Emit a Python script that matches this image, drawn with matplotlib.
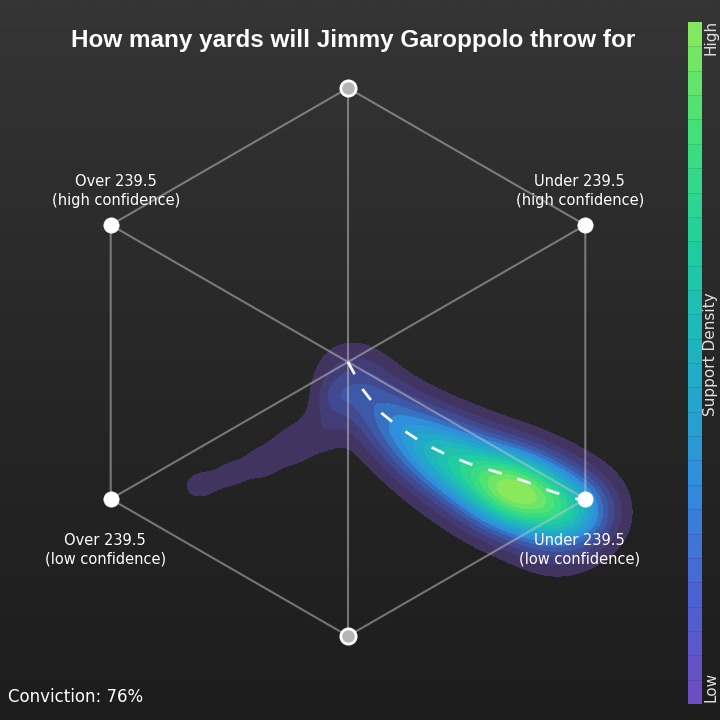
import numpy as np
import matplotlib
matplotlib.use("Agg")
import matplotlib.pyplot as plt
from matplotlib.colors import LinearSegmentedColormap, Normalize
import matplotlib.colorbar as mcolorbar

title = "How many yards will Jimmy Garoppolo throw for"
conviction = "Conviction: 76%"

# hexagon vertices (angle in degrees), label, marker face
vertex_angles = [90, 30, -30, -90, -150, 150]
vertex_labels = ["", "Under 239.5\n(high confidence)", "Under 239.5\n(low confidence)",
                 "", "Over 239.5\n(low confidence)", "Over 239.5\n(high confidence)"]
vertex_faces = ["#b4b4b4", "white", "white", "#b4b4b4", "white", "white"]

# support points (hexagon units), weights and kernel widths
support_x = [0.00, 0.05, 0.12, 0.20, 0.28, 0.36, 0.45, 0.55, 0.63, 0.72, 0.82, 0.88, 0.76,
             -0.05, -0.10, -0.21, -0.32, -0.43, -0.52, -0.57]
support_y = [-0.04, -0.11, -0.18, -0.25, -0.30, -0.35, -0.40, -0.45, -0.48, -0.51, -0.54, -0.55, -0.64,
             -0.13, -0.25, -0.31, -0.37, -0.41, -0.445, -0.455]
support_w = [1.0, 1.3, 1.7, 2.1, 2.6, 3.2, 4.0, 5.0, 5.2, 4.4, 3.0, 1.6, 1.0,
             1.0, 1.0, 0.9, 0.8, 0.7, 0.6, 0.45]
support_bw = [0.085, 0.09, 0.09, 0.09, 0.095, 0.095, 0.1, 0.1, 0.1, 0.1, 0.095, 0.09, 0.1,
              0.05, 0.06, 0.06, 0.055, 0.05, 0.045, 0.042]

# mean path (dashed)
path_x = [0.0, 0.055, 0.117, 0.19, 0.274, 0.361, 0.456, 0.555, 0.653, 0.748, 0.821, 0.894, 0.905]
path_y = [0.0, -0.102, -0.182, -0.241, -0.296, -0.339, -0.376, -0.405, -0.438, -0.474, -0.496, -0.515, -0.53]

cmap_colors = ["#6e4cbf", "#4a63d3", "#2f8fdc", "#1fb0c4", "#1fcda0", "#3fe07a", "#8ae85c"]
cmap = LinearSegmentedColormap.from_list("support", cmap_colors)

fig = plt.figure(figsize=(7.2, 7.2), dpi=100)

# background gradient
bg = fig.add_axes([0, 0, 1, 1], zorder=-1)
grad = np.linspace(0, 1, 256).reshape(-1, 1)
bg_cmap = LinearSegmentedColormap.from_list("bg", ["#353535", "#272727", "#1d1d1d"])
bg.imshow(grad, aspect="auto", cmap=bg_cmap, extent=[0, 1, 0, 1], origin="upper")
bg.set_axis_off()

ax = fig.add_axes([0, 0, 1, 1])
ax.patch.set_alpha(0)
ax.set_xlim(-348 / 274, 372 / 274)
ax.set_ylim(-358 / 274, 362 / 274)
ax.set_axis_off()

ang = np.radians(vertex_angles)
vx = np.cos(ang)
vy = np.sin(ang)

line_kw = dict(color="#c8c8c8", alpha=0.5, lw=1.5, zorder=2.5)
ax.plot(np.append(vx, vx[0]), np.append(vy, vy[0]), **line_kw)
for i in range(3):
    ax.plot([vx[i], vx[i + 3]], [vy[i], vy[i + 3]], **line_kw)

# density
gx, gy = np.meshgrid(np.linspace(-1.0, 1.3, 460), np.linspace(-1.0, 0.4, 280))
dens = np.zeros_like(gx)
for x0, y0, w, b in zip(support_x, support_y, support_w, support_bw):
    dens += w * np.exp(-((gx - x0) ** 2 + (gy - y0) ** 2) / (2 * b * b))
dens /= dens.max()
n_lev = 16
levels = np.linspace(0.05, 1.0, n_lev + 1)
bg_rgb = np.array([0.145, 0.145, 0.145])
level_cols = []
for k in range(n_lev):
    a = 0.38 + 0.62 * min(1, k / 5)
    c = np.array(cmap(k / (n_lev - 1))[:3])
    level_cols.append(tuple(a * c + (1 - a) * bg_rgb))
cs = ax.contourf(gx, gy, dens, levels=levels, colors=level_cols, zorder=2)
cs.set_edgecolor("face")
cs.set_linewidth(0.4)

ax.plot(path_x, path_y, color="white", lw=2, dashes=(5, 6), alpha=0.95, zorder=3)

for x0, y0, fc in zip(vx, vy, vertex_faces):
    ax.plot(x0, y0, "o", ms=11, mfc=fc, mec="white", mew=2 if fc != "white" else 0.5, zorder=4)

label_off = {30: (-0.02, 0.125), -30: (-0.02, -0.185), -150: (-0.02, -0.185), 150: (0.02, 0.125)}
for a, x0, y0, lab in zip(vertex_angles, vx, vy, vertex_labels):
    if not lab:
        continue
    dx, dy = label_off[a]
    ax.text(x0 + dx, y0 + dy, lab, ha="center", va="center", color="white",
            fontsize=10.5, family="DejaVu Sans", linespacing=1.35, zorder=5)

fig.text(353 / 720, 1 - 40 / 720, title, ha="center", va="center", color="white",
         fontsize=17.5, fontweight="bold", family="Liberation Sans")
fig.text(8 / 720, 1 - 697 / 720, conviction, ha="left", va="center", color="white",
         fontsize=12, family="DejaVu Sans")

# colorbar
cax = fig.add_axes([688 / 720, 16 / 720, 14 / 720, 682 / 720])
cb = mcolorbar.ColorbarBase(cax, cmap=cmap, norm=Normalize(0, 1),
                            boundaries=np.linspace(0, 1, 29), drawedges=True)
cb.dividers.set_color("#000000")
cb.dividers.set_alpha(0.12)
cb.dividers.set_linewidth(0.6)
cb.outline.set_visible(False)
cax.set_yticks([])
for txt, yy, va in [("High", 1 - 55 / 720, "bottom"), ("Support Density", 1 - 354 / 720, "center"),
                    ("Low", 1 - 702 / 720, "bottom")]:
    fig.text(711 / 720, yy, txt, rotation=90, ha="center", va=va, color="#e0e0e0",
             fontsize=11, family="DejaVu Sans")

plt.savefig("out.png", dpi=100)
